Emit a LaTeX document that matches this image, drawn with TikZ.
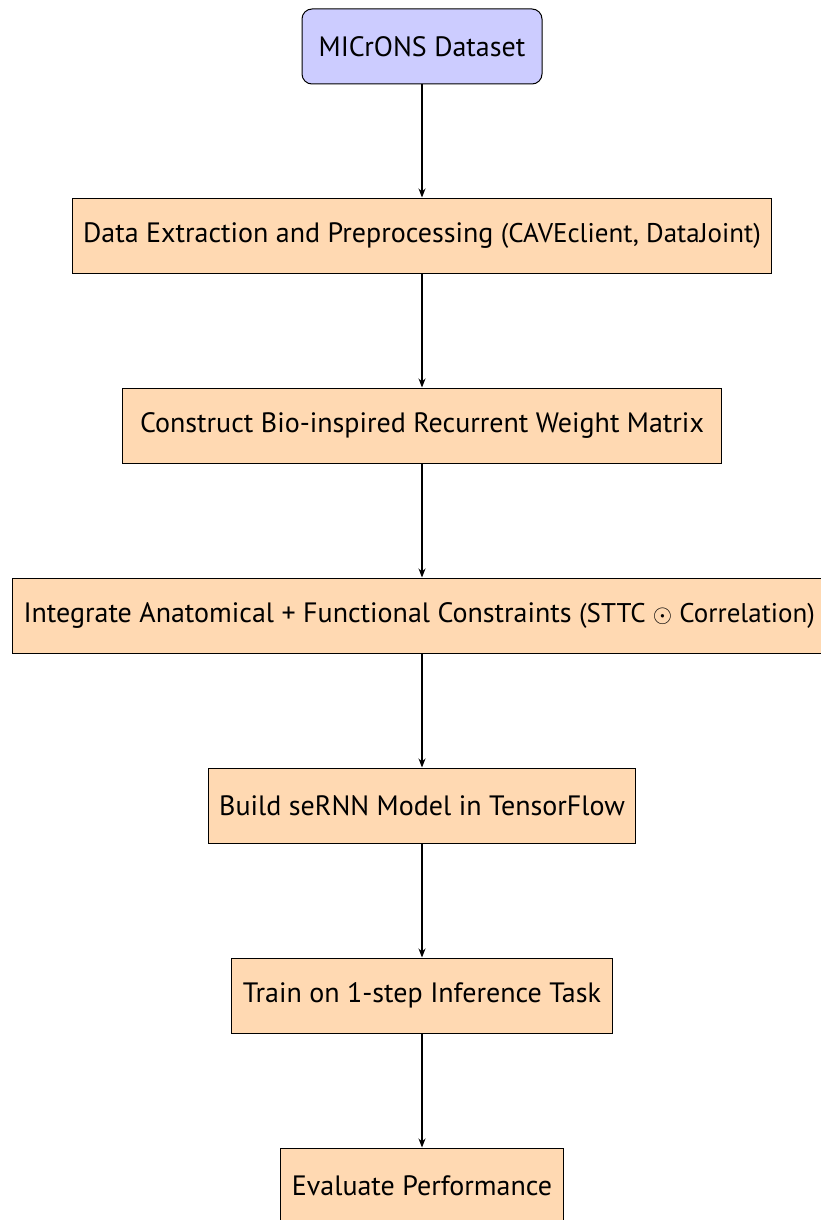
\documentclass[tikz,border=0pt]{standalone}
\usepackage{fontspec}
\setmainfont{PT Sans}
\usetikzlibrary{arrows.meta}
\newcommand{\parenfont}{\fontsize{27}{30}\selectfont}
\begin{document}
\begin{tikzpicture}[x=1pt,y=-1pt,
  box/.style={draw=black, line width=1pt, fill=orange!30, minimum height=75pt, inner xsep=11pt, font=\fontsize{28}{32}\selectfont},
  startbox/.style={box, fill=blue!20, rounded corners=10pt},
  conn/.style={-{Stealth[length=9pt,width=7pt]}, line width=1.2pt}]
\useasboundingbox (0,0) rectangle (821,1220);
\node[startbox, minimum width=240pt] (a) at (422,46.5) {MICrONS Dataset};
\node[box] (b) at (422,235.5) {Data Extraction and Preprocessing {\parenfont(CAVEclient, DataJoint)}};
\node[box, minimum width=599pt] (c) at (422,425.5) {Construct Bio-inspired Recurrent Weight Matrix};
\node[box, anchor=west] (d) at (12,615.5) {Integrate Anatomical + Functional Constraints {\parenfont(STTC $\odot$ Correlation)}};
\node[box] (e) at (422,805.5) {Build seRNN Model in TensorFlow};
\node[box] (f) at (422,995.5) {Train on 1-step Inference Task};
\node[box] (g) at (422,1185.5) {Evaluate Performance};
\draw[conn] (a) -- (b);
\draw[conn] (b) -- (c);
\draw[conn] (c) -- (d.north -| c);
\draw[conn] (d.south -| c) -- (e);
\draw[conn] (e) -- (f);
\draw[conn] (f) -- (g);
\end{tikzpicture}
\end{document}
